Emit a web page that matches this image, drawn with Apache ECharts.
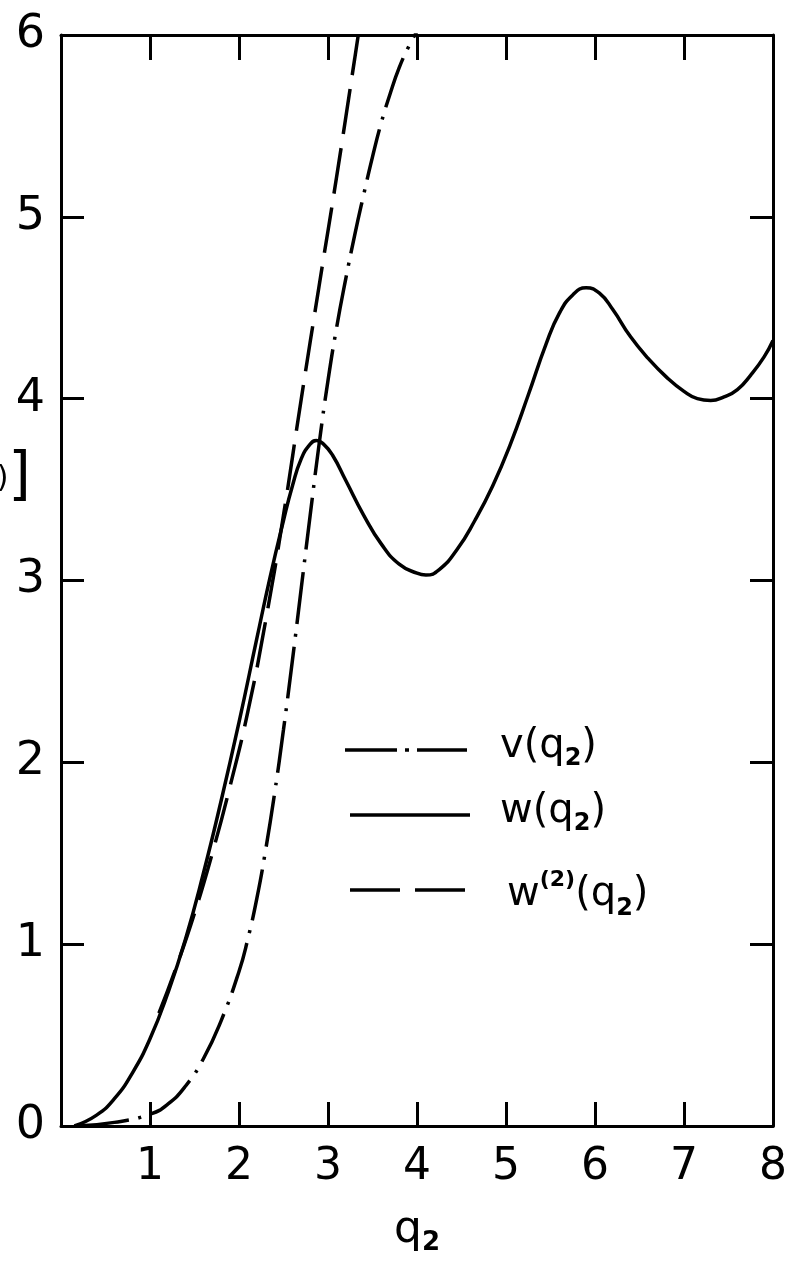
<!DOCTYPE html>
<html><head><meta charset="utf-8">
<script src="https://cdn.jsdelivr.net/npm/echarts@6/dist/echarts.min.js"></script>
<style>html,body{margin:0;padding:0;background:#fff}#c{width:791px;height:1261px}</style>
</head><body><div id="c"></div>
<script>
// ---- data ----
const xTickValues = [0, 1, 2, 3, 4, 5, 6, 7, 8];
const yTickValues = [0, 1, 2, 3, 4, 5, 6];
const seriesNames = ['v(q2)', 'w(q2)', 'w(2)(q2)'];

// v(q2): dash-dot curve
const vData = [[0.18,0],[0.6,0.02],[1.0,0.065],[1.2,0.12],[1.4,0.22],[1.6,0.37],[1.8,0.58],[2.0,0.85],
  [2.1,1.03],[2.2,1.25],[2.3,1.52],[2.4,1.83],[2.5,2.18],[2.6,2.56],[2.7,2.96],[2.8,3.36],[2.9,3.75],
  [3.0,4.1],[3.1,4.4],[3.2,4.66],[3.3,4.9],[3.4,5.12],[3.5,5.33],[3.6,5.52],[3.7,5.68],[3.8,5.82],
  [3.9,5.93],[4.0,6.02]];

// w(q2): solid curve
const wData = [[0.15,0],[0.4,0.06],[0.6,0.15],[0.8,0.29],[1.0,0.48],[1.2,0.73],[1.4,1.03],[1.6,1.39],
  [1.8,1.79],[2.0,2.22],[2.2,2.68],[2.35,3.02],[2.5,3.33],[2.6,3.52],[2.7,3.67],[2.8,3.75],[2.87,3.77],
  [2.95,3.75],[3.05,3.69],[3.2,3.55],[3.4,3.36],[3.6,3.2],[3.8,3.09],[4.0,3.04],[4.1,3.03],[4.25,3.06],
  [4.45,3.17],[4.65,3.33],[4.85,3.52],[5.05,3.75],[5.25,4.02],[5.45,4.3],[5.6,4.47],[5.75,4.57],[5.9,4.61],
  [6.05,4.58],[6.2,4.49],[6.4,4.34],[6.6,4.22],[6.8,4.12],[7.0,4.04],[7.15,4.0],[7.3,3.99],[7.45,4.01],
  [7.6,4.05],[7.75,4.13],[7.9,4.23],[8.0,4.32]];

// w(2)(q2): dashed curve
const w2Data = [[1.1,0.62],[1.3,0.88],[1.5,1.17],[1.7,1.5],[1.9,1.87],[2.1,2.28],[2.3,2.78],[2.5,3.36],
  [2.7,4.0],[2.9,4.62],[3.1,5.23],[3.3,5.87],[3.34,6.0]];

const FONT = 'DejaVu Sans';
const chart = echarts.init(document.getElementById('c'), null, {renderer: 'canvas'});

const axisLine = {show: true, onZero: false, lineStyle: {color: '#000', width: 3}};
const tick = (len) => ({show: true, inside: true, length: len, lineStyle: {color: '#000', width: 3}});

chart.setOption({
  backgroundColor: '#fff',
  animation: false,
  grid: {left: 61, right: 18, top: 35, bottom: 125},
  xAxis: [{
    type: 'value', min: xTickValues[0], max: xTickValues[xTickValues.length-1], interval: 1,
    position: 'bottom', axisLine: axisLine, axisTick: tick(24), splitLine: {show: false},
    axisLabel: {margin: 20, color: '#000', fontFamily: FONT, fontSize: 44,
      formatter: v => v === 0 ? '' : String(v)},
    name: '{a|q}{s|2}', nameLocation: 'middle', nameGap: 80,
    nameTextStyle: {rich: {
      a: {fontFamily: FONT, fontSize: 44, color: '#000', lineHeight: 50},
      s: {fontFamily: FONT, fontSize: 26, fontWeight: 'bold', color: '#000', lineHeight: 26, verticalAlign: 'bottom'}
    }}
  }, {
    type: 'value', min: xTickValues[0], max: xTickValues[xTickValues.length-1], interval: 1,
    position: 'top', axisLine: axisLine, axisTick: tick(25), splitLine: {show: false},
    axisLabel: {show: false}
  }],
  yAxis: [{
    type: 'value', min: yTickValues[0], max: yTickValues[yTickValues.length-1], interval: 1,
    position: 'left', axisLine: axisLine, axisTick: tick(23), splitLine: {show: false},
    axisLabel: {margin: 16, color: '#000', fontFamily: FONT, fontSize: 46}
  }, {
    type: 'value', min: yTickValues[0], max: yTickValues[yTickValues.length-1], interval: 1,
    position: 'right', axisLine: axisLine, axisTick: tick(23), splitLine: {show: false},
    axisLabel: {show: false}
  }],
  series: [
    {name: seriesNames[0], type: 'line', data: vData, smooth: 0.5, symbol: 'none', clip: true,
      lineStyle: {color: '#000', width: 3.5, type: [52, 10, 3, 10], cap: 'butt'}},
    {name: seriesNames[1], type: 'line', data: wData, smooth: 0.5, symbol: 'none', clip: true,
      lineStyle: {color: '#000', width: 3.5, type: 'solid'}},
    {name: seriesNames[2], type: 'line', data: w2Data, smooth: 0.5, symbol: 'none', clip: true,
      lineStyle: {color: '#000', width: 3.5, type: [46, 14], cap: 'butt'}}
  ],
  graphic: [
    // legend samples
    {type: 'line', shape: {x1: 345, y1: 750, x2: 467, y2: 750},
      style: {stroke: '#000', lineWidth: 3.5, lineDash: [52, 8, 4, 8]}},
    {type: 'line', shape: {x1: 350, y1: 815, x2: 470, y2: 815},
      style: {stroke: '#000', lineWidth: 3.5}},
    {type: 'line', shape: {x1: 350, y1: 890, x2: 465, y2: 890},
      style: {stroke: '#000', lineWidth: 3.5, lineDash: [50, 15]}},
    // legend texts
    {type: 'text', x: 500, y: 747, style: {text: '{a|v(q}{s|2}{a|)}', verticalAlign: 'middle',
      rich: {a: {fontFamily: FONT, fontSize: 40, fill: '#000', lineHeight: 48},
             s: {fontFamily: FONT, fontSize: 24, fontWeight: 'bold', fill: '#000', lineHeight: 24, verticalAlign: 'bottom'}}}},
    {type: 'text', x: 500, y: 812, style: {text: '{a|w(q}{s|2}{a|)}', verticalAlign: 'middle',
      rich: {a: {fontFamily: FONT, fontSize: 40, fill: '#000', lineHeight: 48},
             s: {fontFamily: FONT, fontSize: 24, fontWeight: 'bold', fill: '#000', lineHeight: 24, verticalAlign: 'bottom'}}}},
    {type: 'text', x: 507, y: 895, style: {text: '{a|w}{p|(2)}{a|(q}{s|2}{a|)}', verticalAlign: 'middle',
      rich: {a: {fontFamily: FONT, fontSize: 40, fill: '#000', lineHeight: 52},
             p: {fontFamily: FONT, fontSize: 22, fontWeight: 'bold', fill: '#000', lineHeight: 22, verticalAlign: 'top'},
             s: {fontFamily: FONT, fontSize: 24, fontWeight: 'bold', fill: '#000', lineHeight: 24, verticalAlign: 'bottom'}}}},
    // clipped axis title at left edge
    {type: 'text', x: 31, y: 479, style: {text: '{s|w(0)}{b|]}', align: 'right', verticalAlign: 'middle',
      rich: {s: {fontFamily: FONT, fontSize: 30, fill: '#000'},
             b: {fontFamily: FONT, fontSize: 58, fill: '#000'}}}}
  ]
});
</script>
</body></html>
